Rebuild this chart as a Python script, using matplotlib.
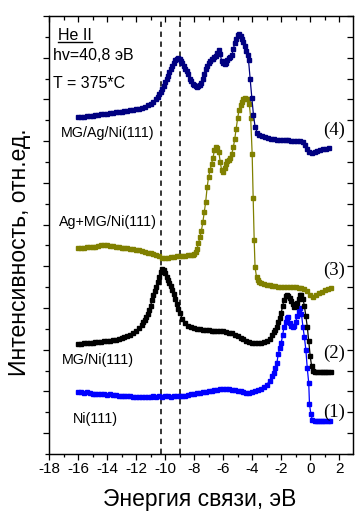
import matplotlib
matplotlib.use('Agg')
import matplotlib.pyplot as plt
from matplotlib.ticker import MultipleLocator, NullFormatter
from matplotlib.lines import Line2D

plt.rcParams['font.family'] = ['Liberation Sans', 'DejaVu Sans']
plt.rcParams['axes.unicode_minus'] = False

# ---------------- data ----------------
# (1) Ni(111)
x1 = [-16.0, -15.8, -15.6, -15.4, -15.2, -15.0, -14.8, -14.6, -14.4, -14.2,
      -14.0, -13.8, -13.6, -13.4, -13.2, -13.0, -12.8, -12.6, -12.4, -12.2,
      -12.0, -11.8, -11.6, -11.4, -11.2, -11.0, -10.8, -10.6, -10.4, -10.2,
      -10.0, -9.8, -9.6, -9.4, -9.2, -9.0, -8.8, -8.6, -8.4, -8.2,
      -8.0, -7.8, -7.6, -7.4, -7.2, -7.0, -6.8, -6.6, -6.4, -6.2,
      -6.0, -5.8, -5.6, -5.4, -5.2, -5.0, -4.8, -4.6, -4.4, -4.2,
      -4.0, -3.8, -3.6, -3.4, -3.2, -3.0,
      -2.8, -2.6, -2.5, -2.4, -2.3, -2.2, -2.1, -2.0, -1.9, -1.8,
      -1.7, -1.6, -1.5, -1.4, -1.3, -1.2, -1.1, -1.0, -0.9, -0.8,
      -0.7, -0.6, -0.5, -0.4, -0.3, -0.2, -0.1, -0.05, 0.05, 0.15,
      0.3, 0.45, 0.6, 0.75, 0.9, 1.05, 1.2, 1.35]
y1 = [0.99, 0.98, 0.97, 0.98, 0.96, 0.95, 0.95, 0.94, 0.95, 0.93,
      0.92, 0.93, 0.92, 0.91, 0.90, 0.90, 0.89, 0.88, 0.89, 0.87,
      0.87, 0.86, 0.87, 0.86, 0.86, 0.87, 0.88, 0.87, 0.88, 0.87,
      0.88, 0.88, 0.87, 0.88, 0.89, 0.89, 0.90, 0.90, 0.92, 0.93,
      0.94, 0.96, 0.97, 0.98, 0.99, 1.01, 1.02, 1.03, 1.04, 1.05,
      1.06, 1.07, 1.06, 1.04, 1.03, 1.02, 1.00, 0.98, 0.96, 0.97,
      0.98, 1.00, 1.03, 1.06, 1.10, 1.16,
      1.25, 1.38, 1.45, 1.55, 1.67, 1.90, 2.03, 2.16, 2.35, 2.55,
      2.67, 2.75, 2.79, 2.65, 2.58, 2.55, 2.56, 2.67, 2.80, 2.92,
      3.00, 2.85, 2.55, 2.30, 2.00, 1.55, 1.20, 0.70, 0.45, 0.32,
      0.30, 0.30, 0.30, 0.30, 0.30, 0.30, 0.30, 0.30]

# (2) MG/Ni(111)
x2 = [-16.0, -15.8, -15.6, -15.4, -15.2, -15.0, -14.8, -14.6, -14.4, -14.2,
      -14.0, -13.8, -13.6, -13.4, -13.2, -13.0, -12.8, -12.6, -12.4, -12.2,
      -12.0, -11.8, -11.6,
      -11.5, -11.4, -11.3, -11.2, -11.1, -11.0, -10.9, -10.8, -10.7, -10.6,
      -10.5, -10.4, -10.3, -10.2, -10.1, -10.0, -9.9, -9.8, -9.7, -9.6,
      -9.5, -9.4, -9.3, -9.2, -9.1, -9.0,
      -8.8, -8.6, -8.4, -8.2, -8.0, -7.8, -7.6, -7.4, -7.2, -7.0,
      -6.8, -6.6, -6.4, -6.2, -6.0, -5.8, -5.6, -5.4, -5.2, -5.0,
      -4.8, -4.6, -4.4, -4.2, -4.0, -3.8, -3.6, -3.4, -3.2, -3.0,
      -2.8, -2.6,
      -2.5, -2.4, -2.3, -2.2, -2.1, -2.0, -1.9, -1.8, -1.7, -1.6,
      -1.5, -1.4, -1.3, -1.2, -1.1, -1.0, -0.9, -0.8, -0.7, -0.6,
      -0.5, -0.4, -0.3, -0.2, -0.1, 0.0, 0.1, 0.2,
      0.35, 0.5, 0.65, 0.8, 0.95, 1.1, 1.25, 1.4]
y2 = [2.13, 2.14, 2.15, 2.15, 2.17, 2.17, 2.18, 2.18, 2.19, 2.20,
      2.20, 2.21, 2.23, 2.24, 2.26, 2.28, 2.30, 2.33, 2.36, 2.40,
      2.45, 2.52, 2.60,
      2.66, 2.72, 2.78, 2.85, 2.95, 3.05, 3.19, 3.30, 3.40, 3.50,
      3.62, 3.75, 3.86, 3.93, 3.90, 3.83, 3.75, 3.67, 3.60, 3.52,
      3.42, 3.33, 3.22, 3.10, 2.98, 2.88,
      2.74, 2.64, 2.58, 2.55, 2.52, 2.50, 2.49, 2.48, 2.47, 2.47,
      2.46, 2.46, 2.45, 2.46, 2.45, 2.43, 2.41, 2.39, 2.36, 2.33,
      2.29, 2.25, 2.22, 2.19, 2.17, 2.17, 2.17, 2.16, 2.18, 2.21,
      2.25, 2.35,
      2.42, 2.48, 2.55, 2.67, 2.75, 2.88, 3.05, 3.20, 3.28, 3.31,
      3.29, 3.24, 3.17, 3.10, 3.03, 3.05, 3.12, 3.22, 3.31, 3.30,
      3.22, 3.05, 2.80, 2.55, 2.20, 1.85, 1.60, 1.50,
      1.47, 1.47, 1.47, 1.47, 1.47, 1.47, 1.47, 1.47]

# (3) Ag+MG/Ni(111)
x3 = [-16.0, -15.8, -15.6, -15.4, -15.2, -15.0, -14.8, -14.6, -14.4, -14.2,
      -14.0, -13.8, -13.6, -13.4, -13.2, -13.0, -12.8, -12.6, -12.4, -12.2,
      -12.0, -11.8, -11.6, -11.4, -11.2, -11.0, -10.8, -10.6, -10.4, -10.2,
      -10.0, -9.8, -9.6, -9.4, -9.2, -9.0, -8.8, -8.6, -8.4, -8.2,
      -8.1, -8.0, -7.9, -7.8, -7.7, -7.6, -7.5, -7.4, -7.3, -7.2,
      -7.1, -7.0, -6.9, -6.8, -6.7, -6.6, -6.5, -6.4, -6.3, -6.2,
      -6.1, -6.0, -5.9, -5.8, -5.7, -5.6, -5.5, -5.4, -5.3, -5.2,
      -5.1, -5.0, -4.9, -4.8, -4.7, -4.6, -4.5, -4.4, -4.3, -4.2,
      -4.1,
      -4.0, -3.93, -3.86, -3.8, -3.7, -3.6, -3.5, -3.4,
      -3.2, -3.0, -2.8, -2.6, -2.4, -2.2, -2.0, -1.8, -1.6, -1.4,
      -1.2, -1.0, -0.8, -0.6, -0.4, -0.2, 0.0, 0.2, 0.4, 0.6,
      0.8, 1.0, 1.2, 1.4]
y3 = [4.43, 4.44, 4.45, 4.46, 4.46, 4.47, 4.47, 4.48, 4.50, 4.50,
      4.51, 4.49, 4.48, 4.47, 4.46, 4.45, 4.44, 4.43, 4.42, 4.41,
      4.40, 4.38, 4.37, 4.35, 4.33, 4.31, 4.29, 4.27, 4.24, 4.21,
      4.20, 4.21, 4.22, 4.23, 4.24, 4.24, 4.25, 4.25, 4.26, 4.27,
      4.28, 4.30, 4.35, 4.42, 4.55, 4.70, 4.85, 5.05, 5.30, 5.55,
      5.90, 6.15, 6.30, 6.45, 6.60, 6.78, 6.85, 6.83, 6.75, 6.50,
      6.30, 6.25, 6.35, 6.45, 6.52, 6.55, 6.60, 6.70, 6.85, 7.05,
      7.30, 7.55, 7.75, 7.87, 7.95, 8.00, 8.03, 8.02, 8.00, 7.90,
      7.55,
      6.70, 5.64, 4.63, 3.98, 3.75, 3.68, 3.63, 3.60,
      3.57, 3.55, 3.54, 3.53, 3.52, 3.51, 3.50, 3.50, 3.50, 3.51,
      3.50, 3.50, 3.49, 3.48, 3.45, 3.40, 3.30, 3.26, 3.30, 3.35,
      3.38, 3.42, 3.45, 3.48]

# (4) MG/Ag/Ni(111)
x4 = [-16.0, -15.8, -15.6, -15.4, -15.2, -15.0, -14.8, -14.6, -14.4, -14.2,
      -14.0, -13.8, -13.6, -13.4, -13.2, -13.0, -12.8, -12.6, -12.4, -12.2,
      -12.0, -11.8, -11.6, -11.4, -11.2, -11.0, -10.8, -10.6,
      -10.5, -10.4, -10.3, -10.2, -10.1, -10.0, -9.9, -9.8, -9.7, -9.6,
      -9.5, -9.4, -9.3, -9.2, -9.1, -9.0, -8.9, -8.8, -8.7, -8.6,
      -8.5, -8.4, -8.3, -8.2, -8.1, -8.0, -7.9, -7.8, -7.7, -7.6,
      -7.5, -7.4, -7.3, -7.2, -7.1, -7.0, -6.9, -6.8, -6.7, -6.6,
      -6.5, -6.4, -6.3, -6.2, -6.1, -6.0, -5.9, -5.8, -5.7, -5.6,
      -5.5, -5.4, -5.3, -5.2, -5.1, -5.0, -4.9, -4.8, -4.7, -4.6,
      -4.5, -4.4, -4.3,
      -4.25, -4.14, -4.02, -3.91, -3.8, -3.65, -3.5,
      -3.3, -3.1, -2.9, -2.7, -2.5, -2.3, -2.1, -1.9, -1.7, -1.5,
      -1.3, -1.1, -0.9, -0.7, -0.5,
      -0.35, -0.2, -0.05, 0.1, 0.3, 0.5, 0.7, 0.9, 1.1, 1.3]
y4 = [7.57, 7.58, 7.58, 7.60, 7.61, 7.61, 7.62, 7.63, 7.64, 7.65,
      7.66, 7.67, 7.68, 7.69, 7.70, 7.71, 7.72, 7.73, 7.74, 7.75,
      7.77, 7.78, 7.80, 7.83, 7.86, 7.90, 7.95, 8.02,
      8.07, 8.12, 8.18, 8.25, 8.33, 8.42, 8.50, 8.57, 8.65, 8.72,
      8.80, 8.87, 8.95, 8.98, 8.99, 8.98, 8.93, 8.87, 8.80, 8.73,
      8.68, 8.60, 8.50, 8.45, 8.38, 8.34, 8.31, 8.30, 8.32, 8.35,
      8.40, 8.50, 8.62, 8.72, 8.80, 8.87, 8.92, 8.96, 8.98, 9.02,
      9.05, 9.12, 9.18, 9.08, 8.92, 8.88, 8.86, 8.88, 8.94, 8.99,
      9.02, 9.06, 9.20, 9.35, 9.46, 9.55, 9.58, 9.52, 9.45, 9.37,
      9.27, 9.17, 9.07,
      8.94, 8.50, 8.03, 7.63, 7.35, 7.20, 7.15,
      7.12, 7.10, 7.08, 7.06, 7.05, 7.03, 7.02, 7.02, 7.03, 7.02,
      7.00, 7.00, 7.01, 7.00, 6.98,
      6.90, 6.80, 6.73, 6.72, 6.74, 6.76, 6.78, 6.80, 6.82, 6.84]

dashed_x = [-10.3, -9.0]

sample_names = ['Ni(111)', 'MG/Ni(111)', 'Ag+MG/Ni(111)', 'MG/Ag/Ni(111)']
curve_numbers = ['(1)', '(2)', '(3)', '(4)']
colors = ['#0000ff', '#000000', '#808000', '#000080']

# ---------------- figure ----------------
W, H = 355, 512
fig = plt.figure(figsize=(W / 100, H / 100), dpi=100)
L, R, T, B = 49, 353, 16, 454
ax = fig.add_axes([L / W, 1 - B / H, (R - L) / W, (B - T) / H])

for xs, ys, c in zip([x1, x2, x3, x4], [y1, y2, y3, y4], colors):
    ax.plot(xs, ys, color=c, lw=0.9, marker='s', ms=3.0, mec=c, mfc=c, zorder=3)

for xv in dashed_x:
    ax.axvline(xv, color='black', lw=1.1, ls=(0, (3.5, 3.0)), zorder=2)

xlim = (-18, 2.95)
ylim = (-0.5, 10)
ax.set_xlim(*xlim)
ax.set_ylim(*ylim)
ax.xaxis.set_major_locator(MultipleLocator(2))
ax.xaxis.set_minor_locator(MultipleLocator(1))
ax.yaxis.set_major_locator(MultipleLocator(1))
ax.yaxis.set_minor_locator(MultipleLocator(0.5))
ax.yaxis.set_major_formatter(NullFormatter())
ax.tick_params(axis='x', which='both', direction='out', top=False, labelsize=11, pad=2)
ax.tick_params(axis='x', which='major', length=4, width=0.9)
ax.tick_params(axis='x', which='minor', length=2.5, width=0.9)
ax.tick_params(axis='y', which='both', direction='out', right=False, labelleft=False)
ax.tick_params(axis='y', which='major', length=4.5, width=0.9)
ax.tick_params(axis='y', which='minor', length=3, width=0.9)
for s in ax.spines.values():
    s.set_linewidth(0.9)

axt = ax.twiny()
axt.set_xlim(*xlim)
axt.xaxis.set_major_locator(MultipleLocator(2))
axt.xaxis.set_minor_locator(MultipleLocator(1))
axt.tick_params(axis='x', which='both', direction='in', top=True, bottom=False,
                labeltop=False, labelbottom=False, width=0.9)
axt.tick_params(axis='x', which='major', length=4)
axt.tick_params(axis='x', which='minor', length=3)

axr = ax.twinx()
axr.set_ylim(*ylim)
axr.yaxis.set_major_locator(MultipleLocator(1))
axr.yaxis.set_minor_locator(MultipleLocator(0.5))
axr.tick_params(axis='y', which='both', direction='in', right=True, left=False,
                labelright=False, labelleft=False, width=0.9, length=4)

# sample labels
lab_kw = dict(fontsize=10.3, ha='center', va='center', zorder=5)
ax.text(-14.83, 0.34, sample_names[0], **lab_kw)
ax.text(-14.62, 1.75, sample_names[1], **lab_kw)
ax.text(-13.93, 5.06, sample_names[2], **lab_kw)
ax.text(-13.93, 7.19, sample_names[3], **lab_kw)

num_kw = dict(fontsize=13.5, ha='center', va='center', family='Liberation Serif', zorder=5)
ax.text(1.65, 0.50, curve_numbers[0], **num_kw)
ax.text(1.65, 1.92, curve_numbers[1], **num_kw)
ax.text(1.65, 3.91, curve_numbers[2], **num_kw)
ax.text(1.65, 7.27, curve_numbers[3], **num_kw)

# condition text
t_he = ax.text(-17.38, 9.54, 'He II', fontsize=11.5, ha='left', va='center')
ax.text(-17.72, 9.06, 'hv=40,8 эВ', fontsize=11.5, ha='left', va='center')
ax.text(-17.72, 8.39, 'T = 375*C', fontsize=11.5, ha='left', va='center')

# axis labels
fig.text(20 / W, 1 - 252 / H, 'Интенсивность, отн.ед.', fontsize=16.5,
         rotation=90, ha='center', va='center')
fig.text(200 / W, 1 - 506 / H, 'Энергия связи, эВ', fontsize=16.5,
         ha='center', va='baseline')

fig.canvas.draw()
bb = t_he.get_window_extent()
yline = (bb.y0 + 0.5) / fig.bbox.height
fig.add_artist(Line2D([bb.x0 / fig.bbox.width, bb.x1 / fig.bbox.width], [yline, yline],
                      transform=fig.transFigure, color='black', lw=1.0))

fig.savefig('out.png', dpi=100)
